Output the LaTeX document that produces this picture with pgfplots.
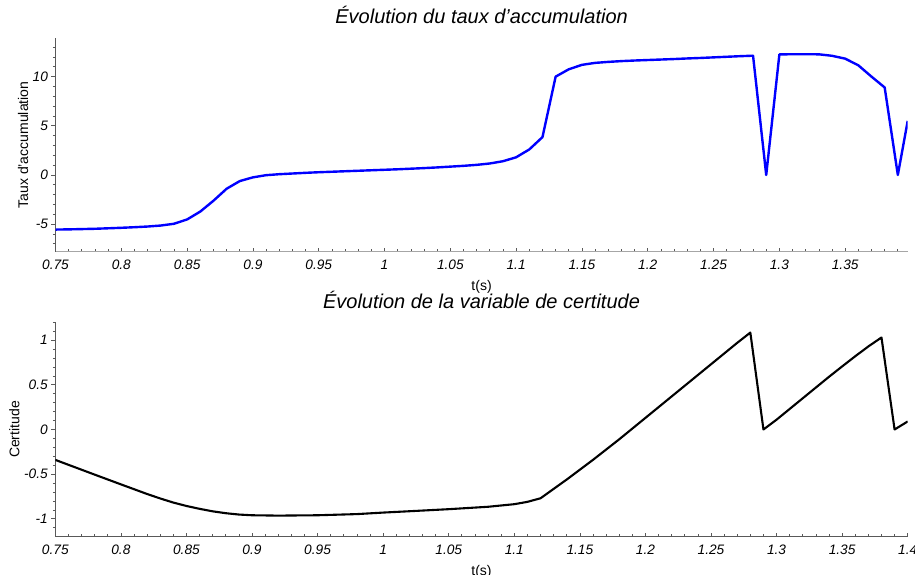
\documentclass[border=0pt]{standalone}
\usepackage{pgfplots}
\pgfplotsset{compat=1.18}
\usepackage{fontspec}
\setmainfont{Liberation Sans}

\begin{document}
\begin{tikzpicture}
\pgfplotsset{
  myax/.style={
    scale only axis,
    axis x line=bottom, axis y line=left,
    axis line style={-, draw=black!65, line width=0.8bp},
    every tick/.style={draw=black!65, line width=0.7bp},
    major tick length=4bp, minor tick length=2.5bp,
    xtick align=inside, ytick align=outside,
    ticklabel style={font=\fontsize{13.7bp}{16bp}\selectfont\itshape},
    xticklabel style={yshift=-4.5bp},
    /pgf/number format/assume math mode=true,
    /pgf/number format/fixed, /pgf/number format/precision=2,
    label style={font=\fontsize{14bp}{16bp}\selectfont},
    xlabel style={at={(axis description cs:0.5,0)}, anchor=center, yshift=-35bp},
    title style={font=\fontsize{20bp}{24bp}\selectfont\itshape, at={(axis description cs:0.5,1)}, anchor=center},
    xlabel={t(s)},
  }
}
% Top axis
\begin{axis}[myax,
  at={(55.5bp,323.3bp)}, anchor=south west,
  width=852.2bp, height=213.4bp,
  xmin=0.75, xmax=1.3975, ymin=-7.8, ymax=13.9,
  xtick={0.75,0.8,0.85,0.9,0.95,1,1.05,1.1,1.15,1.2,1.25,1.3,1.35},
  minor xtick={0.76,0.77,...,1.40},
  ytick={-5,0,5,10},
  minor ytick={-7,-6,...,13},
  x axis line style={draw=black!35, line width=1.6bp},
  title={Évolution du taux d'accumulation},
  title style={yshift=17.5bp},
  ylabel={Taux d'accumulation},
  ylabel style={at={(axis description cs:-0.0381,0.5)}, anchor=center},
]
\addplot[blue, line width=2.4bp, line join=round] coordinates {
(0.75,-5.55) (0.76,-5.53) (0.77,-5.50) (0.78,-5.47) (0.79,-5.42)
(0.80,-5.37) (0.81,-5.31) (0.82,-5.24) (0.83,-5.14) (0.84,-4.96)
(0.85,-4.52) (0.86,-3.72) (0.87,-2.62) (0.88,-1.40) (0.89,-0.62)
(0.90,-0.24) (0.91,-0.02) (0.92,0.08) (0.93,0.15) (0.94,0.22)
(0.95,0.28) (0.96,0.33) (0.97,0.38) (0.98,0.43) (0.99,0.48)
(1.00,0.53) (1.01,0.58) (1.02,0.64) (1.03,0.70) (1.04,0.77)
(1.05,0.85) (1.06,0.93) (1.07,1.03) (1.08,1.17) (1.09,1.40)
(1.10,1.80) (1.11,2.60) (1.12,3.85) (1.13,10.00) (1.14,10.75)
(1.15,11.20) (1.16,11.40) (1.17,11.50) (1.18,11.58) (1.19,11.64)
(1.20,11.69) (1.21,11.74) (1.22,11.79) (1.23,11.85) (1.24,11.90)
(1.25,11.96) (1.26,12.02) (1.27,12.08) (1.28,12.13) (1.29,0.00)
(1.30,12.26) (1.31,12.28) (1.32,12.28) (1.33,12.27) (1.34,12.12)
(1.35,11.83) (1.36,11.15) (1.37,10.00) (1.38,8.90) (1.39,0.00)
(1.3975,5.50)
};
\end{axis}
% Bottom axis
\begin{axis}[myax,
  at={(55.3bp,38.3bp)}, anchor=south west,
  width=852.4bp, height=214.4bp,
  xmin=0.75, xmax=1.4, ymin=-1.2, ymax=1.2,
  xtick={0.75,0.8,0.85,0.9,0.95,1,1.05,1.1,1.15,1.2,1.25,1.3,1.35,1.4},
  minor xtick={0.76,0.77,...,1.40},
  ytick={-1,-0.5,0,0.5,1},
  minor ytick={-1.1,-1.0,...,1.15},
  title={Évolution de la variable de certitude},
  title style={yshift=16.6bp},
  ylabel={Certitude},
  ylabel style={at={(axis description cs:-0.0479,0.5)}, anchor=center},
]
\addplot[black, line width=2.1bp, line join=round] coordinates {
(0.75,-0.34) (0.78,-0.505) (0.80,-0.614) (0.82,-0.722) (0.83,-0.772)
(0.84,-0.818) (0.85,-0.856) (0.86,-0.888) (0.87,-0.916) (0.88,-0.937)
(0.89,-0.952) (0.90,-0.960) (0.92,-0.964) (0.95,-0.960)
(0.98,-0.947) (1.00,-0.93) (1.02,-0.915) (1.05,-0.892) (1.08,-0.865)
(1.10,-0.836) (1.11,-0.81) (1.12,-0.77) (1.13,-0.665) (1.14,-0.56)
(1.15,-0.45) (1.16,-0.34) (1.17,-0.225) (1.18,-0.11) (1.19,0.01)
(1.20,0.13) (1.21,0.25) (1.22,0.37) (1.23,0.49) (1.24,0.61)
(1.25,0.73) (1.26,0.85) (1.27,0.97) (1.28,1.085) (1.29,0.00)
(1.30,0.11) (1.31,0.23) (1.32,0.35) (1.33,0.47) (1.34,0.59)
(1.35,0.706) (1.36,0.82) (1.37,0.93) (1.38,1.03) (1.39,0.00)
(1.40,0.09)
};
\end{axis}
\pgfresetboundingbox
\path[use as bounding box] (0,0) rectangle (915bp,575bp);
\end{tikzpicture}
\end{document}
